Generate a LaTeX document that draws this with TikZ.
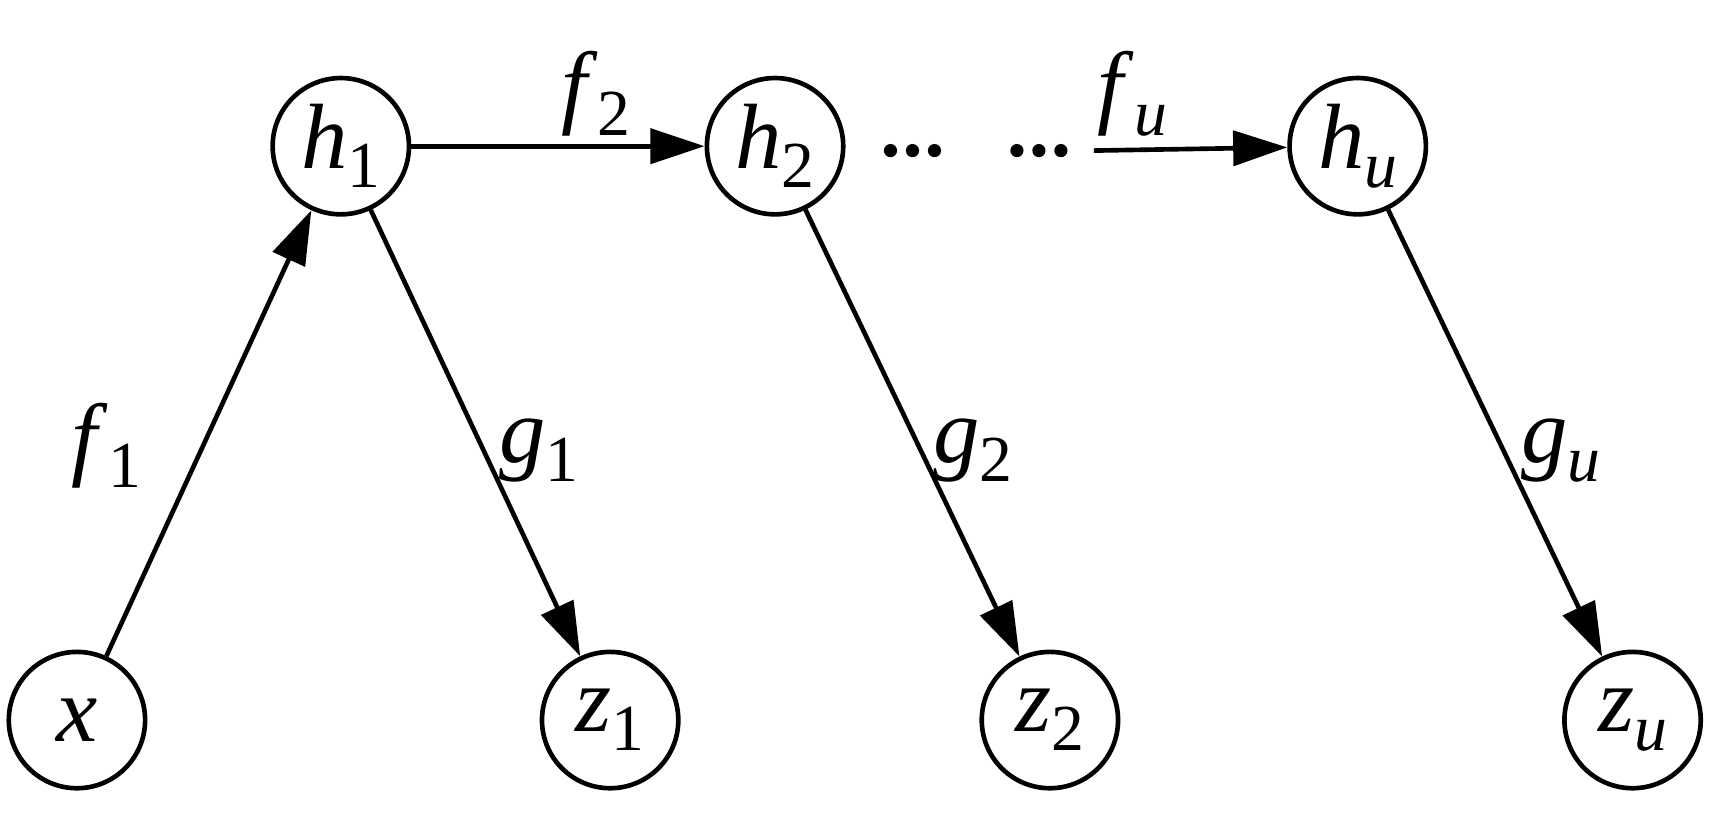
\documentclass[tikz,border=0pt]{standalone}
\usepackage{fontspec}
\setmainfont{Liberation Serif}[ItalicFont={Liberation Serif Italic}]
\usetikzlibrary{arrows.meta}
\newcommand{\symb}[2]{\textit{#1}\raisebox{-0.45ex}{\fontsize{17}{19}\selectfont #2}}
\begin{document}
\begin{tikzpicture}[
    var/.style={draw, circle, line width=1.2pt, minimum size=1.24cm, inner sep=0pt, font=\rmfamily\fontsize{24}{28}\selectfont},
    lbl/.style={font=\rmfamily\fontsize{24}{28}\selectfont},
    arr/.style={line width=1.2pt, -{Triangle[length=14pt,width=9pt]}}]
    \useasboundingbox (0,0) rectangle (15.6,7.4);
    \node[var] (x) at (0.70,0.85) {\textit{x}};
    \node[var] (h1) at (3.10,6.07) {\symb{h}{1}};
    \node[var] (h2) at (7.05,6.07) {\symb{h}{2}};
    \node[var] (hu) at (12.35,6.07) {\symb{h}{\textit{u}}};
    \node[var] (z1) at (5.55,0.85) {\symb{z}{1}};
    \node[var] (z2) at (9.55,0.85) {\symb{z}{2}};
    \node[var] (zu) at (14.85,0.85) {\symb{z}{\textit{u}}};
    % dots
    \foreach \cx in {8.10,8.30,8.50,9.25,9.45,9.65}
        \fill (\cx,6.03) circle [radius=0.06];
    \coordinate (du) at (9.95,6.03);
    % connectors
    \draw[arr] (x) -- (h1);
    \draw[arr] (h1) -- (h2);
    \draw[arr] (du) -- (hu);
    \draw[arr] (h1) -- (z1);
    \draw[arr] (h2) -- (z2);
    \draw[arr] (hu) -- (zu);
    % labels
    \node[lbl] (lf1) at (0.97,3.35) {\symb{f}{1}};
    \node[lbl] (lf2) at (5.42,6.55) {\symb{f}{2}};
    \node[lbl] (lfu) at (10.30,6.55) {\symb{f}{\textit{u}}};
    \node[lbl] (lg1) at (4.90,3.30) {\symb{g}{1}};
    \node[lbl] (lg2) at (8.85,3.30) {\symb{g}{2}};
    \node[lbl] (lgu) at (14.20,3.30) {\symb{g}{\textit{u}}};
\end{tikzpicture}
\end{document}
